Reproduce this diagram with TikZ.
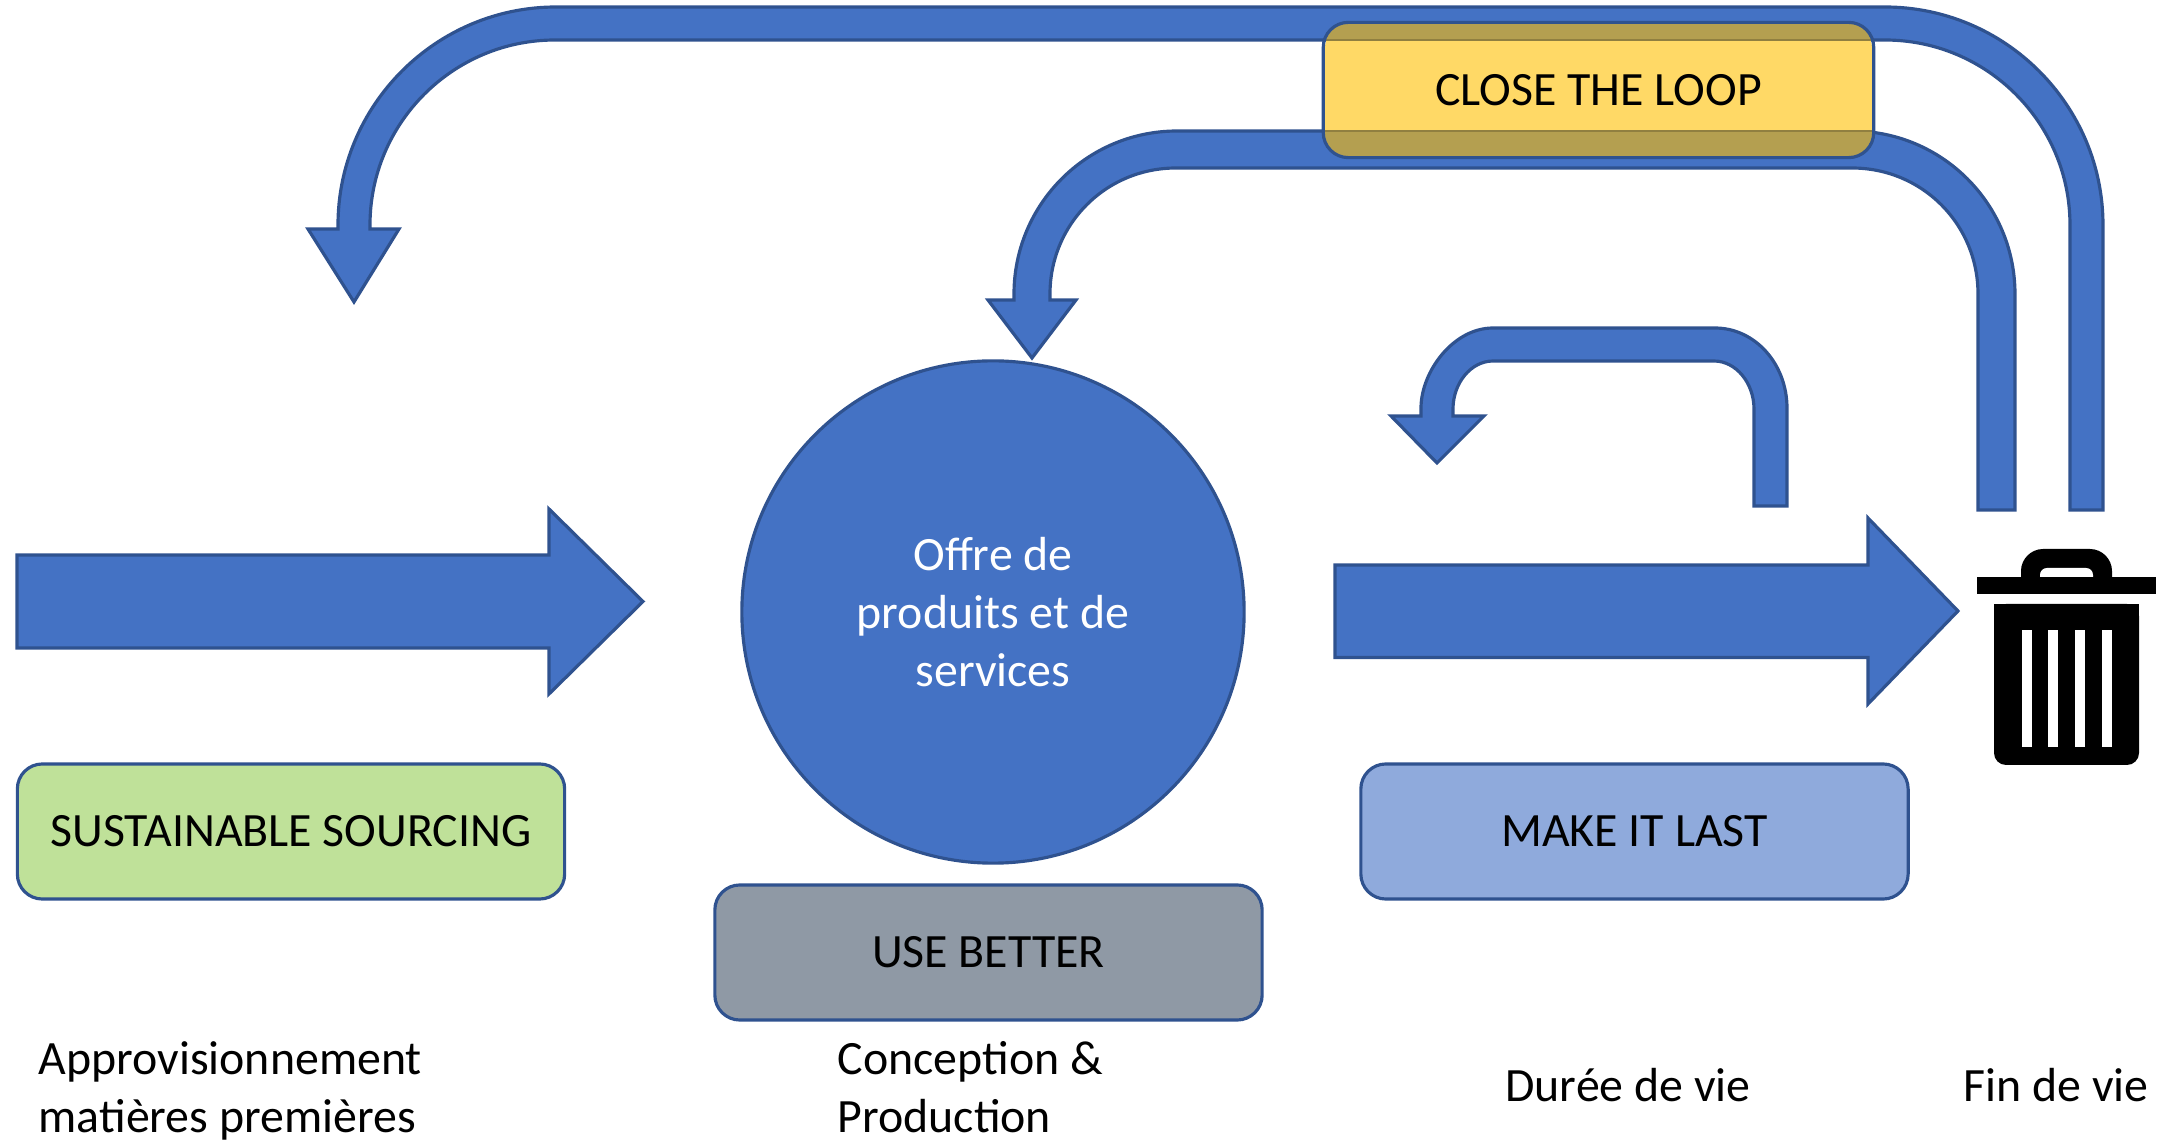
\documentclass[tikz,border=0pt]{standalone}
\usepackage{fontspec}
\setmainfont{Carlito}
\usepackage{tikz}
\usetikzlibrary{arrows}

\definecolor{arrowblue}{RGB}{68,114,196}
\definecolor{edgeblue}{RGB}{47,82,143}
\definecolor{loopyellow}{RGB}{255,217,102}
\definecolor{loopolive}{RGB}{180,159,80}
\definecolor{sourcegreen}{RGB}{191,225,153}
\definecolor{bettergray}{RGB}{143,153,165}
\definecolor{lastblue}{RGB}{143,170,220}

\begin{document}
\begin{tikzpicture}[x=0.01cm,y=-0.01cm,
  txt/.style={font=\fontsize{13.6}{16.5}\selectfont},
  box/.style={txt,draw=edgeblue,line width=0.9pt,rounded corners=0.25cm,minimum width=5.47cm,minimum height=1.35cm,inner sep=0pt},
  band/.style={fill=arrowblue,draw=edgeblue,line width=0.9pt}]
\useasboundingbox (0,0) rectangle (2174,1140);
%\draw [step=100,gray!30] (0,0) grid (2174,1140);

% big loop back to sourcing
\draw [band] (2103,510) -- (2103,225) .. controls (2103,105) and (2005,7) .. (1885,7) -- (556,7) .. controls (436,7) and (338,105) .. (338,225) -- (338,229) -- (308,229) -- (354,302) -- (399,229) -- (370,229) -- (370,225) .. controls (370,123) and (453,40) .. (555,40) -- (1885,40) .. controls (1987,40) and (2070,123) .. (2070,225) -- (2070,510) -- cycle;

% loop back to the offer
\draw [band] (2015,510) -- (2015,294) .. controls (2015,204) and (1942,131) .. (1852,131) -- (1177,131) .. controls (1087,131) and (1014,204) .. (1014,294) -- (1014,300) -- (988,300) -- (1032,358) -- (1076,300) -- (1050,300) -- (1050,294) .. controls (1050,224) and (1106,168) .. (1176,168) -- (1852,168) .. controls (1922,168) and (1978,224) .. (1978,294) -- (1978,510) -- cycle;

% small loop
\draw [band] (1787,506) -- (1787,408) .. controls (1787,364) and (1755,328) .. (1715,328) -- (1493,328) .. controls (1453,328) and (1421,372) .. (1421,408) -- (1421,416) -- (1391,416) -- (1437,463) -- (1484,416) -- (1453,416) -- (1453,409) .. controls (1453,383) and (1471,361) .. (1493,361) -- (1714,361) .. controls (1736,361) and (1754,383) .. (1754,409) -- (1754,506) -- cycle;

% straight arrows
\draw [band] (17,555) -- (549,555) -- (549,509) -- (643,601.5) -- (549,694) -- (549,648) -- (17,648) -- cycle;
\draw [band] (1335,565) -- (1868,565) -- (1868,518) -- (1958,611) -- (1868,704) -- (1868,657.5) -- (1335,657.5) -- cycle;

\node [circle,fill=arrowblue,draw=edgeblue,line width=0.9pt,minimum size=5.02cm,inner sep=0pt,align=center,text=white,txt] (offre) at (993,612) {Offre de\\produits et de\\services};

\node [box,fill=sourcegreen] (sourcing) at (291,831.5) {SUSTAINABLE SOURCING};
\node [box,fill=bettergray] (usebetter) at (988.5,952.5) {USE BETTER};
\node [box,fill=lastblue] (makelast) at (1634.5,831.5) {MAKE IT LAST};

\node [box,fill=loopyellow,draw=none,minimum height=1.32cm] (closeloop) at (1598.5,90) {CLOSE THE LOOP};
\begin{scope}
\clip [rounded corners=0.25cm] (closeloop.north west) rectangle (closeloop.south east);
\fill [loopolive] (1325,7) rectangle (1872,40);
\fill [loopolive] (1325,131) rectangle (1872,168);
\draw [loopolive!80!black] (1325,40) -- (1872,40) (1325,131) -- (1872,131);
\end{scope}
\draw [edgeblue,line width=0.9pt,rounded corners=0.25cm] (closeloop.north west) rectangle (closeloop.south east);

% trash can
\fill (2021,586) -- (2021,571) .. controls (2021,559) and (2031,549) .. (2043,549) -- (2090,549) .. controls (2102,549) and (2112,559) .. (2112,571) -- (2112,586) -- cycle;
\fill [white] (2040,580) -- (2040,575) .. controls (2040,571) and (2043,568) .. (2047,568) -- (2086,568) .. controls (2090,568) and (2093,571) .. (2093,575) -- (2093,580) -- cycle;
\fill (1977,577) rectangle (2156,594);
\fill [rounded corners=0.12cm] (1994,604) rectangle (2139,765);
\fill (1994,604) rectangle (2139,650);
\foreach \sx in {2022,2048,2075,2102} \fill [white] (\sx,630) rectangle ++(9.5,117);

\node [txt,anchor=base west,align=left,inner sep=0pt] (approv) at (38,1133) {Approvisionnement\\matières premières};
\node [txt,anchor=base west,align=left,inner sep=0pt] (conception) at (837,1133) {Conception \&\\Production};
\node [txt,anchor=base,inner sep=0pt] (duree) at (1628,1102) {Durée de vie};
\node [txt,anchor=base,inner sep=0pt] (fin) at (2056,1102) {Fin de vie};
\end{tikzpicture}
\end{document}
